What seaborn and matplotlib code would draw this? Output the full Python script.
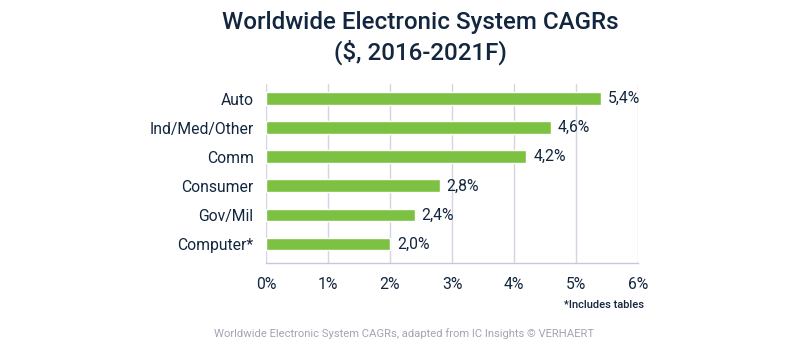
import matplotlib
matplotlib.use("Agg")
import matplotlib.pyplot as plt
import seaborn as sns
import pandas as pd

categories = ["Auto", "Ind/Med/Other", "Comm", "Consumer", "Gov/Mil", "Computer*"]
cagr = [5.4, 4.6, 4.2, 2.8, 2.4, 2.0]
value_labels = ["5,4%", "4,6%", "4,2%", "2,8%", "2,4%", "2,0%"]
x_ticks = [0, 1, 2, 3, 4, 5, 6]
x_tick_labels = ["0%", "1%", "2%", "3%", "4%", "5%", "6%"]

sns.set_theme(style="white")
plt.rcParams["font.family"] = ["Roboto", "DejaVu Sans"]

navy = "#13263f"
green = "#7dc142"
grid_color = "#d4d4e2"

df = pd.DataFrame({"category": categories, "cagr": cagr})

fig = plt.figure(figsize=(8, 3.47), dpi=100)
ax = fig.add_axes([266 / 800, 1 - 263 / 347, (638 - 266) / 800, (263 - 84) / 347])

sns.barplot(data=df, x="cagr", y="category", orient="h", color=green,
            width=0.44, saturation=1, ax=ax, zorder=3)

ax.set_xlim(0, 6)
ax.set_ylim(5.65, -0.5)
ax.set_xticks(x_ticks)
ax.set_xticklabels(x_tick_labels, fontsize=11.3, color=navy)
ax.tick_params(axis="y", labelsize=11.3, labelcolor=navy, length=0, pad=9)
ax.tick_params(axis="x", length=0, pad=10)
ax.set_xlabel("")
ax.set_ylabel("")
ax.xaxis.grid(True, color=grid_color, linewidth=1, zorder=0)
for name, s in ax.spines.items():
    s.set_visible(name == "bottom")
ax.spines["bottom"].set_color("#c8c8dc")
ax.spines["bottom"].set_linewidth(1)

for patch, lab in zip(ax.patches, value_labels):
    w = patch.get_width()
    y = patch.get_y() + patch.get_height() / 2
    ax.text(w + 0.11, y, lab, va="center", ha="left", fontsize=11.3, color=navy)

fig.text(420 / 800, 1 - 22 / 347, "Worldwide Electronic System CAGRs", ha="center",
         va="center", fontsize=17.4, color=navy, fontweight="medium")
fig.text(420 / 800, 1 - 52 / 347, "($, 2016-2021F)", ha="center", va="center",
         fontsize=17.4, color=navy, fontweight="medium")
fig.text(644 / 800, 1 - 305 / 347, "*Includes tables", ha="right", va="center",
         fontsize=8, color=navy, fontweight="medium")
fig.text(404 / 800, 1 - 334 / 347,
         "Worldwide Electronic System CAGRs, adapted from IC Insights \u00a9 VERHAERT",
         ha="center", va="center", fontsize=8.1, color="#a4a4b4")

fig.savefig("out.png", dpi=100)
